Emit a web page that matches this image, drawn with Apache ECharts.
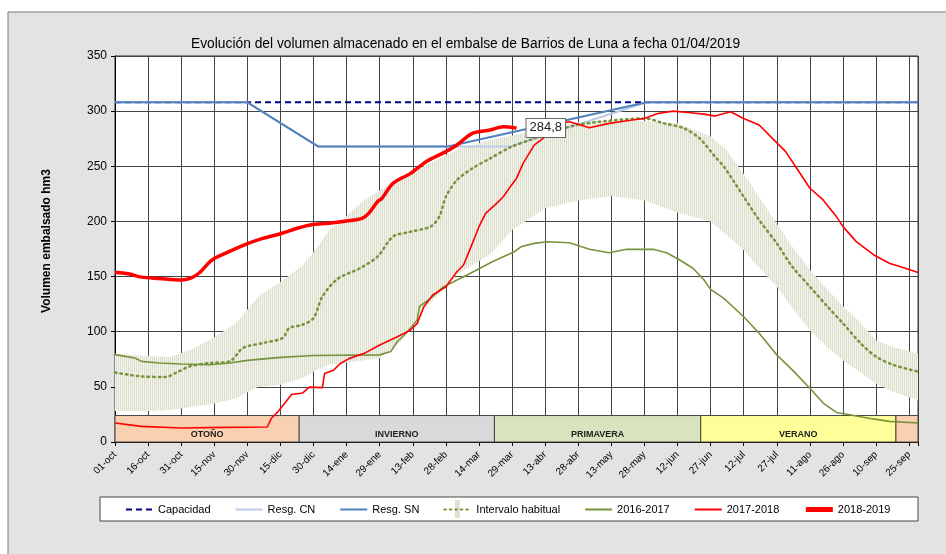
<!DOCTYPE html>
<html>
<head>
<meta charset="utf-8">
<script src="https://cdn.jsdelivr.net/npm/echarts/dist/echarts.min.js"></script>
<style>
  html, body { margin: 0; padding: 0; background: #fff; }
  #main { width: 946px; height: 554px; }
</style>
</head>
<body>
<div id="main"></div>
<script>
// x = dia del año hidrologico (0 = 01-oct)
var tickLabels = ['01-oct','16-oct','31-oct','15-nov','30-nov','15-dic','30-dic','14-ene','29-ene','13-feb','28-feb','14-mar','29-mar',
  '13-abr','28-abr','13-may','28-may','12-jun','27-jun','12-jul','27-jul','11-ago','26-ago','10-sep','25-sep'];

var capacidad = [[0, 308], [364, 308]];
var resgCN = [[0, 308], [60, 308], [92, 268], [179, 268], [241, 308], [364, 308]];
var resgSN = [[0, 308], [60, 308], [92, 268], [151, 268], [241, 308], [364, 308]];

var bandDays = [0,15,25,35,45,55,65,75,85,92,97,105,112,120,130,140,155,170,180,195,210,225,240,255,270,277,285,292,300,307,315,323,330,338,345,353,364];
var bandLow  = [28,28,29,32,35,40,50,52,58,66,70,72,74,76,92,120,152,170,192,212,219,223,219,208,200,188,174,158,141,122,101,86,74,63,53,45,38];
var bandHigh = [80,78,77,84,95,108,132,145,160,177,192,205,218,228,240,250,265,274,278,285,290,291,291,289,277,265,243,222,198,177,156,138,123,108,92,86,80];

var mediana = [[0,63.1],[6,61],[12,59.5],[23,58.9],[28,63.1],[34,68.6],[43,71.6],[52,73.1],[58,85.2],[67,89.7],[76,94.3],[79,103.3],
  [85,106.3],[90,112.4],[94,131.8],[101,148],[111,157.5],[119,168.1],[126,186.2],[134,190.7],[143,195.3],[147,204.4],[150,222.4],
  [155,237.5],[162,248.1],[170,257.1],[179,267],[188,273.8],[199,281.4],[209,287.4],[224,291.3],[240,293.4],[249,288.9],[258,284.4],
  [265,275.3],[272,258.7],[276,249.7],[285,222.4],[292,201.3],[300,180.1],[307,159],[315,140.8],[323,122.7],[330,107.6],[338,89.5],
  [345,77.4],[353,69.8],[364,63.8]];

var v2016 = [[0,79.2],[9,76.1],[12,73.1],[20,71.6],[30,70.7],[43,70.1],[52,71.6],[60,74],[75,76.7],[90,78.5],[120,79],[125,82],
  [128,91.1],[132,98.6],[137,110.6],[138,122.7],[143,130.2],[149,140.8],[158,149.8],[164,155.9],[171,163.4],[181,172.5],[184,177],
  [190,180.1],[196,181.6],[206,180.7],[215,174.7],[224,171.6],[232,174.7],[244,174.7],[250,171.6],[256,165],[262,157.5],[267,146.9],
  [270,138.4],[276,130.2],[285,113.6],[292,98.6],[300,79],[307,65.4],[315,48.8],[321,35.3],[327,26.8],[333,24.7],[341,21.7],
  [351,18.7],[364,17.2]];

var v2017 = [[0,17.2],[12,14.2],[30,12.7],[50,13.3],[69,13.6],[71,21.8],[74,27.8],[77,35.3],[80,43],[85,44.4],[88,49.8],[94,49.3],
  [95,62],[99,65],[102,71],[106,75.6],[113,80.4],[120,87.9],[128,95.5],[134,101.5],[137,107.6],[140,122.7],[144,133.3],[150,140.8],
  [155,154.4],[158,160.5],[162,180.1],[165,195.2],[168,207.3],[173,216.4],[176,222.4],[179,230.9],[182,239],[185,252.6],[190,269.2],
  [193,273.8],[197,279.8],[202,288.9],[206,290.4],[211,287.4],[215,284.9],[224,288.9],[232,291.3],[240,293.4],[246,297.9],[253,300],
  [261,298.5],[267,297.3],[272,295.5],[279,299.5],[285,293.4],[292,287.4],[298,275.3],[304,263.3],[309,248.2],[315,230.1],[321,219.5],
  [327,204.4],[330,195.3],[336,181.7],[344,169.6],[351,162.1],[359,157],[364,153.6]];

var v2018 = [[0,154],[6,152.6],[12,149.5],[20,148.3],[30,147],[34,148.3],[38,153],[44,165],[52,172.8],[60,179.8],[67,184.6],
  [75,188.8],[83,194],[89,197],[97,198.3],[105,200.4],[112,202.8],[115,207.3],[119,217.9],[121,220.9],[126,234.5],[134,243.6],
  [141,254.2],[150,263.3],[155,269.3],[162,279.9],[170,282.9],[176,285.9],[182,284.8]];

var estaciones = ['OTOÑO', 'INVIERNO', 'PRIMAVERA', 'VERANO', ''];
var estInicio = [0, 83.5, 172, 265.5, 354];
var estFin = [83.5, 172, 265.5, 354, 364];
var estAltura = 24;

var estColores = ['#f9d1b0', '#d9d9d9', '#d7e4bd', '#ffff99', '#f9d1b0'];

var chart = echarts.init(document.getElementById('main'));

// patron de rayas verticales para el intervalo habitual
var cv = document.createElement('canvas');
cv.width = 2; cv.height = 4;
var cx = cv.getContext('2d');
cx.fillStyle = '#f3f4ee'; cx.fillRect(0, 0, 2, 4);
cx.fillStyle = '#dcdfcc'; cx.fillRect(0, 0, 1, 4);

var areas = [];
for (var k = 0; k < estaciones.length; k++) {
  areas.push([
    { name: estaciones[k], xAxis: estInicio[k], yAxis: 0, itemStyle: { color: estColores[k] } },
    { xAxis: estFin[k], yAxis: estAltura }
  ]);
}

var font = 'Liberation Sans, Arial, sans-serif';

var option = {
  animation: false,
  textStyle: { fontFamily: font },
  title: {
    text: 'Evolución del volumen almacenado en el embalse de Barrios de Luna a fecha 01/04/2019',
    left: 186, top: 32,
    textStyle: { fontSize: 13.8, fontWeight: 'normal', color: '#000', fontFamily: font }
  },
  graphic: [
    { type: 'rect', z: -10, shape: { x: 8, y: 12, width: 960, height: 560 },
      style: { fill: '#e3e3e3', stroke: '#7a7a7a', lineWidth: 1 } },
    { type: 'rect', z: -5, shape: { x: 100, y: 497, width: 818, height: 24 },
      style: { fill: '#fff', stroke: '#444', lineWidth: 1 } },
    // barra del icono de "Intervalo habitual" en la leyenda
    { type: 'rect', z: -4, shape: { x: 455, y: 500, width: 5, height: 18 },
      style: { fill: '#dfe2d0' } },
    { type: 'text', x: 47, y: 241, rotation: Math.PI / 2,
      style: { text: 'Volumen embalsado hm3', textAlign: 'center', textVerticalAlign: 'middle',
        font: 'bold 12px Liberation Sans, Arial', fill: '#000' } }
  ],
  legend: {
    left: 125, top: 504, padding: 0,
    itemWidth: 27, itemHeight: 10, itemGap: 24,
    itemStyle: { opacity: 0 },
    textStyle: { fontSize: 11, color: '#000', fontFamily: font },
    data: ['Capacidad', 'Resg. CN', 'Resg. SN', 'Intervalo habitual', '2016-2017', '2017-2018',
      { name: '2018-2019', lineStyle: { width: 5 } }]
  },
  grid: {
    left: 115, right: 28, top: 56, bottom: 112,
    show: true, backgroundColor: '#fff', borderColor: '#333', borderWidth: 1
  },
  xAxis: {
    type: 'value', min: 0, max: 364, interval: 15,
    axisLine: { show: true, lineStyle: { color: '#000' } },
    axisTick: { show: true, length: 4, lineStyle: { color: '#000' } },
    splitLine: { show: true, lineStyle: { color: '#444', width: 1 } },
    axisLabel: {
      rotate: 45, fontSize: 10, color: '#000', margin: 11,
      formatter: function (v) { return v % 15 === 0 ? (tickLabels[v / 15] || '') : ''; }
    }
  },
  yAxis: {
    type: 'value', min: 0, max: 350, interval: 50,
    axisLine: { show: true, lineStyle: { color: '#000' } },
    axisTick: { show: true, length: 4, lineStyle: { color: '#000' } },
    splitLine: { show: true, lineStyle: { color: '#444', width: 1 } },
    axisLabel: { fontSize: 12, color: '#000', margin: 8 }
  },
  series: [
    {
      name: 'estaciones', type: 'line', data: [], silent: true,
      markArea: {
        silent: true,
        itemStyle: { borderColor: '#444', borderWidth: 1 },
        label: { show: true, position: 'insideBottom', distance: 3, fontSize: 9, fontWeight: 'bold', color: '#222',
          fontFamily: 'Liberation Sans Narrow, Liberation Sans, Arial' },
        data: areas
      }
    },
    {
      name: 'banda', type: 'custom', silent: true, data: [[0, 0]],
      renderItem: function (params, api) {
        var pts = [];
        for (var i = 0; i < bandDays.length; i++) pts.push(api.coord([bandDays[i], bandHigh[i]]));
        for (var j = bandDays.length - 1; j >= 0; j--) pts.push(api.coord([bandDays[j], bandLow[j]]));
        return { type: 'polygon', shape: { points: pts }, style: { fill: { image: cv, repeat: 'repeat' } } };
      }
    },
    {
      name: 'Capacidad', type: 'line', data: capacidad, showSymbol: false, symbol: 'none',
      lineStyle: { color: '#000080', width: 2, type: [6, 4] }, itemStyle: { color: '#000080' }
    },
    {
      name: 'Resg. CN', type: 'line', data: resgCN, showSymbol: false, symbol: 'none',
      lineStyle: { color: '#b9cde5', width: 2 }, itemStyle: { color: '#b9cde5' }
    },
    {
      name: 'Resg. SN', type: 'line', data: resgSN, showSymbol: false, symbol: 'none',
      lineStyle: { color: '#4f81bd', width: 2 }, itemStyle: { color: '#4f81bd' }
    },
    {
      name: 'Intervalo habitual', type: 'line', data: mediana, showSymbol: false, symbol: 'none', smooth: 0.3,
      lineStyle: { color: '#77933c', width: 2.5, type: [1.5, 4], cap: 'round' }, itemStyle: { color: '#77933c' }
    },
    {
      name: '2016-2017', type: 'line', data: v2016, showSymbol: false, symbol: 'none',
      lineStyle: { color: '#77933c', width: 1.6 }, itemStyle: { color: '#77933c' }
    },
    {
      name: '2017-2018', type: 'line', data: v2017, showSymbol: false, symbol: 'none',
      lineStyle: { color: '#ff0000', width: 1.6 }, itemStyle: { color: '#ff0000' }
    },
    {
      name: '2018-2019', type: 'line', data: v2018, showSymbol: false, symbol: 'none', smooth: 0.3,
      lineStyle: { color: '#ff0000', width: 3.5 }, itemStyle: { color: '#ff0000' },
      endLabel: {
        show: true, distance: 10, fontSize: 13, color: '#222',
        backgroundColor: '#fff', borderColor: '#666', borderWidth: 1, padding: [3, 3, 2, 3],
        formatter: function (p) { return String(p.value[1]).replace('.', ','); }
      }
    }
  ]
};

chart.setOption(option);
</script>
</body>
</html>
